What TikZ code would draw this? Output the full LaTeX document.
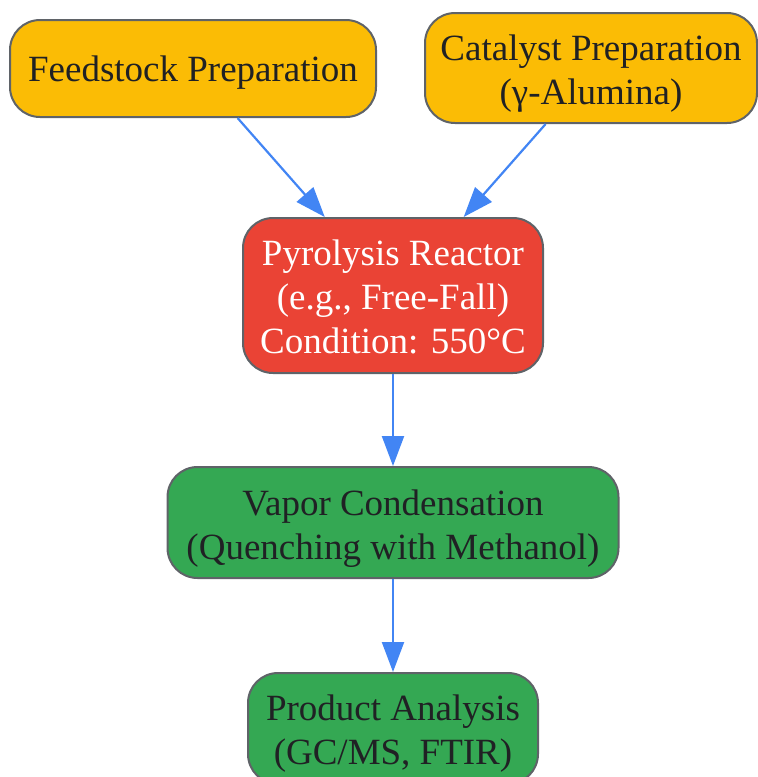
\documentclass[tikz,border=0pt]{standalone}
\usepackage{fontspec}
\setmainfont{Liberation Serif}
\usetikzlibrary{arrows.meta}

\definecolor{feedyellow}{HTML}{FBBC05}
\definecolor{reactorred}{HTML}{EA4335}
\definecolor{stagegreen}{HTML}{34A853}
\definecolor{flowblue}{HTML}{4285F4}
\definecolor{edgegray}{HTML}{5F6368}
\definecolor{textdark}{HTML}{202124}
% extra room above the first line, pushes the text a little down
\newcommand{\toppad}[1]{\rule{0pt}{#1}}

\begin{document}
\begin{tikzpicture}[x=1pt,y=-1pt,
        stage/.style={draw=edgegray, line width=2pt, rounded corners=30pt,
            align=center, text=textdark, inner sep=0pt,
            font=\fontsize{37}{44}\selectfont},
        flow/.style={-{Triangle[length=30pt,width=22pt]}, draw=flowblue, line width=2.2pt}]
    \useasboundingbox (0,0) rectangle (758,777);
    \clip (0,0) rectangle (758,777);
    % input stages
    \node[stage, fill=feedyellow, minimum width=366pt, minimum height=97pt] (feed) at (193,68.5) {\toppad{33pt}Feedstock Preparation};
    \node[stage, fill=feedyellow, minimum width=332pt, minimum height=110pt] (cat) at (591,68) {\toppad{37pt}Catalyst Preparation\\(γ-Alumina)};
    % reactor and downstream
    \node[stage, fill=reactorred, text=white, minimum width=300pt, minimum height=155pt] (pyro) at (393,295.5) {\toppad{29pt}Pyrolysis Reactor\\(e.g., Free-Fall)\\Condition: 550°C};
    \node[stage, fill=stagegreen, minimum width=451pt, minimum height=111pt] (vapor) at (393,522.5) {\toppad{37pt}Vapor Condensation\\(Quenching with Methanol)};
    \node[stage, fill=stagegreen, minimum width=290pt, minimum height=111pt] (prod) at (393,728.5) {\toppad{35pt}Product Analysis\\(GC/MS, FTIR)};
    \draw[flow] (feed.-48.5) -- (pyro.131);
    \draw[flow] (cat.-129.4) -- (pyro.48.6);
    \draw[flow] (pyro) -- (vapor);
    \draw[flow] (vapor) -- (prod);
\end{tikzpicture}
\end{document}
